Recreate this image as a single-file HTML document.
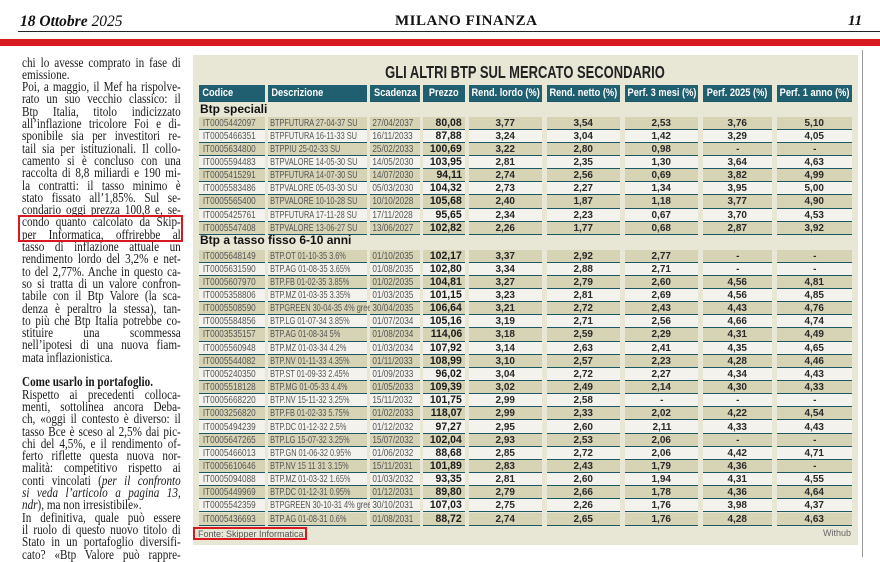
<!DOCTYPE html>
<html><head><meta charset="utf-8">
<style>
*{margin:0;padding:0;box-sizing:border-box}
body{width:880px;height:557px;overflow:hidden;background:#fff;position:relative;font-family:"Liberation Sans",sans-serif}
.abs{position:absolute}
.ln{position:absolute;left:22px;width:196px;height:13px;transform:scaleX(0.81);transform-origin:left top;font-family:"Liberation Serif",serif;font-size:13.8px;line-height:13px;color:#1a1a1a;white-space:nowrap;text-align:justify;text-align-last:justify}
.ln.l{text-align-last:left}
.cell{position:absolute;border-bottom:1.5px solid #1c5766;overflow:visible;white-space:nowrap;display:flex;align-items:center}
.sq{display:inline-block;transform-origin:left center}
</style></head>
<body>
<div class="abs" style="left:20px;top:13px;font-family:'Liberation Serif',serif;font-size:15.5px;font-style:italic;color:#111"><b>18 Ottobre</b> 2025</div>
<div class="abs" style="left:395px;top:13px;font-family:'Liberation Serif',serif;font-size:15px;font-weight:bold;letter-spacing:0.5px;color:#111">MILANO FINANZA</div>
<div class="abs" style="left:848px;top:13px;font-family:'Liberation Serif',serif;font-size:15px;font-weight:bold;font-style:italic;color:#111">11</div>
<div class="abs" style="left:18px;top:31px;width:862px;height:1px;background:#222"></div>
<div class="abs" style="left:0;top:39px;width:880px;height:7px;background:#d71920"></div>
<div class="abs" style="left:862px;top:50px;width:1px;height:507px;background:#999"></div>

<div id="article"></div>
<div class="abs" style="left:18px;top:215px;width:165px;height:27px;border:2px solid #d71920"></div>

<div class="abs" style="left:193px;top:55px;width:665px;height:490px;background:#e8e6d5"></div>
<div class="abs" style="left:525px;top:62px;width:0;white-space:nowrap"><span style="display:inline-block;transform:translateX(-50%) scaleX(0.74);font-size:17.5px;font-weight:bold;color:#222">GLI ALTRI BTP SUL MERCATO SECONDARIO</span></div>
<div id="table"></div>
<div class="abs" style="left:198px;top:529px;font-size:9px;color:#555">Fonte: Skipper Informatica</div>
<div class="abs" style="left:193px;top:527px;width:114px;height:13px;border:2px solid #d71920"></div>
<div class="abs" style="left:823px;top:528px;font-size:9px;color:#666">Withub</div>

<script>
const lines=[
[0,"chi lo avesse comprato in fase di",""],[1,"emissione.","l"],
[2,"Poi, a maggio, il Mef ha rispolve-",""],[3,"rato un suo vecchio classico: il",""],
[4,"Btp Italia, titolo indicizzato",""],[5,"all’inflazione tricolore Foi e di-",""],
[6,"sponibile sia per investitori re-",""],[7,"tail sia per istituzionali. Il collo-",""],
[8,"camento si è concluso con una",""],[9,"raccolta di 8,8 miliardi e 190 mi-",""],
[10,"la contratti: il tasso minimo è",""],[11,"stato fissato all’1,85%. Sul se-",""],
[12,"condario oggi prezza 100,8 e, se-",""],[13,"condo quanto calcolato da Skip-",""],
[14,"per Informatica, offrirebbe al",""],[15,"tasso di inflazione attuale un",""],
[16,"rendimento lordo del 3,2% e net-",""],[17,"to del 2,77%. Anche in questo ca-",""],
[18,"so si tratta di un valore confron-",""],[19,"tabile con il Btp Valore (la sca-",""],
[20,"denza è peraltro la stessa), tan-",""],[21,"to più che Btp Italia potrebbe co-",""],
[22,"stituire una scommessa",""],[23,"nell’ipotesi di una nuova fiam-",""],
[24,"mata inflazionistica.","l"],
[26,"<b>Come usarlo in portafoglio.</b>","l"],
[27,"Rispetto ai precedenti colloca-",""],[28,"menti, sottolinea ancora Deba-",""],
[29,"ch, «oggi il contesto è diverso: il",""],[30,"tasso Bce è sceso al 2,5% dai pic-",""],
[31,"chi del 4,5%, e il rendimento of-",""],[32,"ferto riflette questa nuova nor-",""],
[33,"malità: competitivo rispetto ai",""],[34,"conti vincolati (<i>per il confronto</i>",""],
[35,"<i>si veda l’articolo a pagina 13,</i>",""],[36,"<i>ndr</i>), ma non irresistibile».","l"],
[37,"In definitiva, quale può essere",""],[38,"il ruolo di questo nuovo titolo di",""],
[39,"Stato in un portafoglio diversifi-",""],[40,"cato? «Btp Valore può rappre-",""]];
const art=document.getElementById('article');
lines.forEach(([i,t,c])=>{const d=document.createElement('div');d.className='ln '+c;d.style.top=(55.5+12.3*i)+'px';d.innerHTML=t;


art.appendChild(d);});

const headers=["Codice","Descrizione","Scadenza","Prezzo","Rend. lordo (%)","Rend. netto (%)","Perf. 3 mesi (%)","Perf. 2025 (%)","Perf. 1 anno (%)"];
const sections=["Btp speciali","Btp a tasso fisso 6-10 anni"];
const sectionOf=[0,0,0,0,0,0,0,0,0,1,1,1,1,1,1,1,1,1,1,1,1,1,1,1,1,1,1,1,1,1];
const codes=["IT0005442097","IT0005466351","IT0005634800","IT0005594483","IT0005415291","IT0005583486","IT0005565400","IT0005425761","IT0005547408",
"IT0005648149","IT0005631590","IT0005607970","IT0005358806","IT0005508590","IT0005584856","IT0003535157","IT0005560948","IT0005544082","IT0005240350","IT0005518128","IT0005668220","IT0003256820","IT0005494239","IT0005647265","IT0005466013","IT0005610646","IT0005094088","IT0005449969","IT0005542359","IT0005436693"];
const descs=["BTPFUTURA 27-04-37 SU","BTPFUTURA 16-11-33 SU","BTPPIU 25-02-33 SU","BTPVALORE 14-05-30 SU","BTPFUTURA 14-07-30 SU","BTPVALORE 05-03-30 SU","BTPVALORE 10-10-28 SU","BTPFUTURA 17-11-28 SU","BTPVALORE 13-06-27 SU",
"BTP.OT 01-10-35 3.6%","BTP.AG 01-08-35 3.65%","BTP.FB 01-02-35 3.85%","BTP.MZ 01-03-35 3.35%","BTPGREEN 30-04-35 4% green","BTP.LG 01-07-34 3.85%","BTP.AG 01-08-34 5%","BTP.MZ 01-03-34 4.2%","BTP.NV 01-11-33 4.35%","BTP.ST 01-09-33 2.45%","BTP.MG 01-05-33 4.4%","BTP.NV 15-11-32 3.25%","BTP.FB 01-02-33 5.75%","BTP.DC 01-12-32 2.5%","BTP.LG 15-07-32 3.25%","BTP.GN 01-06-32 0.95%","BTP.NV 15 11 31 3.15%","BTP.MZ 01-03-32 1.65%","BTP.DC 01-12-31 0.95%","BTPGREEN 30-10-31 4% green","BTP.AG 01-08-31 0.6%"];
const dates=["27/04/2037","16/11/2033","25/02/2033","14/05/2030","14/07/2030","05/03/2030","10/10/2028","17/11/2028","13/06/2027",
"01/10/2035","01/08/2035","01/02/2035","01/03/2035","30/04/2035","01/07/2034","01/08/2034","01/03/2034","01/11/2033","01/09/2033","01/05/2033","15/11/2032","01/02/2033","01/12/2032","15/07/2032","01/06/2032","15/11/2031","01/03/2032","01/12/2031","30/10/2031","01/08/2031"];
const prices=["80,08","87,88","100,69","103,95","94,11","104,32","105,68","95,65","102,82",
"102,17","102,80","104,81","101,15","106,64","105,16","114,06","107,92","108,99","96,02","109,39","101,75","118,07","97,27","102,04","88,68","101,89","93,35","89,80","107,03","88,72"];
const rendLordo=["3,77","3,24","3,22","2,81","2,74","2,73","2,40","2,34","2,26",
"3,37","3,34","3,27","3,23","3,21","3,19","3,18","3,14","3,10","3,04","3,02","2,99","2,99","2,95","2,93","2,85","2,83","2,81","2,79","2,75","2,74"];
const rendNetto=["3,54","3,04","2,80","2,35","2,56","2,27","1,87","2,23","1,77",
"2,92","2,88","2,79","2,81","2,72","2,71","2,59","2,63","2,57","2,72","2,49","2,58","2,33","2,60","2,53","2,72","2,43","2,60","2,66","2,26","2,65"];
const perf3m=["2,53","1,42","0,98","1,30","0,69","1,34","1,18","0,67","0,68",
"2,77","2,71","2,60","2,69","2,43","2,56","2,29","2,41","2,23","2,27","2,14","-","2,02","2,11","2,06","2,06","1,79","1,94","1,78","1,76","1,76"];
const perf2025=["3,76","3,29","-","3,64","3,82","3,95","3,77","3,70","2,87",
"-","-","4,56","4,56","4,43","4,66","4,31","4,35","4,28","4,34","4,30","-","4,22","4,33","-","4,42","4,36","4,31","4,36","3,98","4,28"];
const perf1y=["5,10","4,05","-","4,63","4,99","5,00","4,90","4,53","3,92",
"-","-","4,81","4,85","4,76","4,74","4,49","4,65","4,46","4,43","4,33","-","4,54","4,43","-","4,71","-","4,55","4,64","4,37","4,63"];

const cols=[[199,265],[268,367],[370,420],[423,465],[469,542],[547,620],[625,698],[703,772],[777,852]];
const tbl=document.getElementById('table');
function cell(x0,x1,top,h,bg,html,align,style,scale){
  const d=document.createElement('div');d.className='cell';
  d.style.left=x0+'px';d.style.width=(x1-x0)+'px';d.style.top=top+'px';d.style.height=h+'px';d.style.background=bg;
  d.style.justifyContent=align;
  const s=document.createElement('span');s.className='sq';s.innerHTML=html;s.style.cssText+=style;
  if(scale){s.style.transform='scaleX('+scale+')';s.style.transformOrigin=align==='center'?'center':(align==='flex-end'?'right center':'left center');}
  d.appendChild(s);tbl.appendChild(d);return d;
}
headers.forEach((h,j)=>{
  const d=cell(cols[j][0],cols[j][1],85,17,'#1f5f70',h,j<2?'flex-start':'center','color:#fff;font-weight:bold;font-size:11px;padding-left:'+(j<2?'4px':'0'),0.84);
  
  
});
const sectionTop=[102,233];
const rowStart=[116.5,249.5];
const pitch=13.15;
sections.forEach((s,k)=>{
  const d=document.createElement('div');d.className='abs';d.style.left='200px';d.style.top=sectionTop[k]+'px';
  d.style.cssText+='font-size:12px;font-weight:bold;color:#111;';d.textContent=s;
  
  
  tbl.appendChild(d);
});
const counters=[0,0];
codes.forEach((c,i)=>{
  const k=sectionOf[i];const r=counters[k]++;
  const top=rowStart[k]+r*pitch;const bg=r%2===0?'#d7d3b5':'#f3f2ec';
  const vals=[c,descs[i],dates[i],prices[i],rendLordo[i],rendNetto[i],perf3m[i],perf2025[i],perf1y[i]];
  vals.forEach((v,j)=>{
    let align='center',style='',scale=0;
    if(j===0){align='flex-start';style='color:#555;font-size:10.5px;padding-left:5px';scale=0.78;}
    else if(j===1){align='flex-start';style='color:#555;font-size:10.5px;padding-left:3px';scale=0.7;}
    else if(j===2){align='flex-start';style='color:#555;font-size:10.5px;padding-left:3px';scale=0.78;}
    else if(j===3){align='flex-end';style='color:#1a1a1a;font-weight:bold;font-size:11px;padding-right:3px';scale=0.95;}
    else {style='color:#2a2a2a;font-weight:bold;font-size:10.5px';scale=0.95;}
    const d=cell(cols[j][0],cols[j][1],top,pitch,bg,v,align,style,scale);
    
    
  });
});
</script>
</body></html>
